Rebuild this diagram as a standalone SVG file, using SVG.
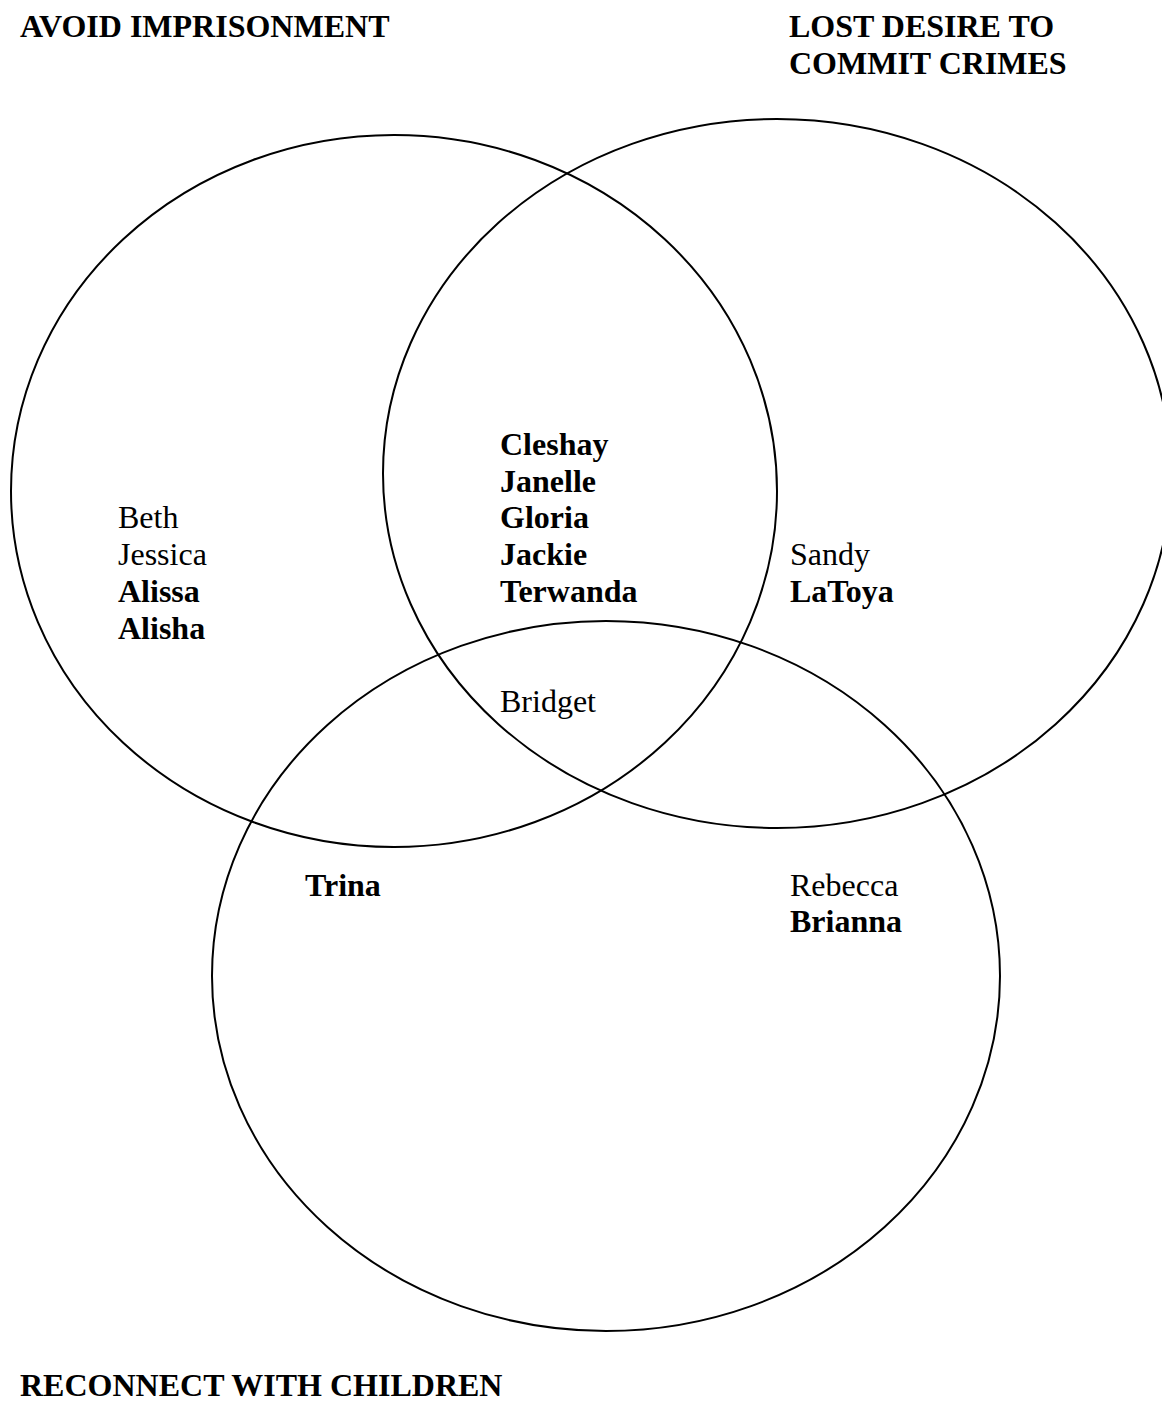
<svg xmlns="http://www.w3.org/2000/svg" width="1162" height="1409" viewBox="0 0 1162 1409">
<style>
.set{fill:none;stroke:#000;stroke-width:2}
text{font-family:"Liberation Serif","Times New Roman",serif;font-size:32px;fill:#000}
.b{font-weight:bold}
</style>
<rect width="1162" height="1409" fill="#fff"/>
<g id="sets">
<ellipse id="set-avoid" class="set" cx="394" cy="491" rx="383" ry="356"/>
<ellipse id="set-lost" class="set" cx="777" cy="473.5" rx="394" ry="354.5"/>
<ellipse id="set-reconnect" class="set" cx="606" cy="976" rx="394" ry="355"/>
</g>
<g id="titles">
<text class="b" x="20" y="37">AVOID IMPRISONMENT</text>
<text class="b" x="789" y="37">LOST DESIRE TO</text>
<text class="b" x="789" y="74">COMMIT CRIMES</text>
<text class="b" x="20" y="1396">RECONNECT WITH CHILDREN</text>
</g>
<g id="region-avoid">
<text x="118" y="528">Beth</text>
<text x="118" y="565">Jessica</text>
<text class="b" x="118" y="602">Alissa</text>
<text class="b" x="118" y="639">Alisha</text>
</g>
<g id="region-avoid-lost">
<text class="b" x="500" y="455">Cleshay</text>
<text class="b" x="500" y="492">Janelle</text>
<text class="b" x="500" y="528">Gloria</text>
<text class="b" x="500" y="565">Jackie</text>
<text class="b" x="500" y="602">Terwanda</text>
</g>
<g id="region-lost">
<text x="790" y="565">Sandy</text>
<text class="b" x="790" y="602">LaToya</text>
</g>
<g id="region-all">
<text x="500" y="712">Bridget</text>
</g>
<g id="region-avoid-reconnect">
<text class="b" x="305" y="896">Trina</text>
</g>
<g id="region-reconnect">
<text x="790" y="896">Rebecca</text>
<text class="b" x="790" y="932">Brianna</text>
</g>
</svg>
